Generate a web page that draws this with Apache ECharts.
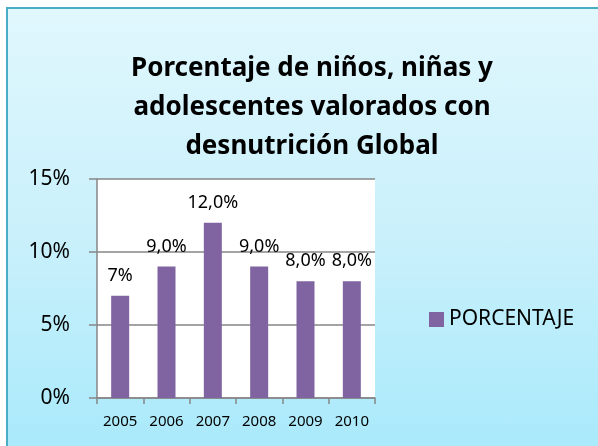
<!DOCTYPE html>
<html>
<head>
<meta charset="utf-8">
<script src="https://cdn.jsdelivr.net/npm/echarts@6/dist/echarts.min.js"></script>
<style>
  html, body { margin: 0; padding: 0; background: #ffffff; }
  #frame {
    position: absolute; left: 6px; top: 7px; width: 620px; height: 460px;
    border-left: 2px solid #4bacc6; border-top: 2px solid #4bacc6;
    background: linear-gradient(to bottom, #e0f7fd 0%, #c9f0fb 50%, #a6e9fb 100%);
  }
  #chart { position: absolute; left: 0; top: 0; width: 598px; height: 446px; }
</style>
</head>
<body>
<div id="frame"></div>
<div id="chart"></div>
<script>
// años
var years = ['2005', '2006', '2007', '2008', '2009', '2010'];
// porcentaje
var values = [7, 9, 12, 9, 8, 8];
// etiquetas tal como aparecen
var valueLabels = ['7%', '9,0%', '12,0%', '9,0%', '8,0%', '8,0%'];
var yTicks = [0, 5, 10, 15];

var myChart = echarts.init(document.getElementById('chart'));
var font = "'Noto Sans', 'DejaVu Sans', sans-serif";

var option = {
    backgroundColor: 'transparent',
    animation: false,
    title: {
        text: 'Porcentaje de niños, niñas y\nadolescentes valorados con\ndesnutrición Global',
        left: 307,
        top: 44,
        textAlign: 'center',
        textStyle: {
            fontFamily: font,
            fontWeight: 'bold',
            fontSize: 26,
            lineHeight: 39,
            color: '#000000'
        }
    },
    legend: {
        left: 424,
        top: 304,
        icon: 'rect',
        itemWidth: 15,
        itemHeight: 15,
        itemGap: 8,
        itemStyle: { borderWidth: 0 },
        textStyle: { fontFamily: font, fontSize: 21, color: '#000000' },
        data: ['PORCENTAJE']
    },
    grid: {
        left: 97,
        right: 223,
        top: 179,
        bottom: 48,
        show: true,
        backgroundColor: '#ffffff',
        borderWidth: 0
    },
    xAxis: {
        type: 'category',
        data: years,
        axisLine: { show: true, lineStyle: { color: '#868686', width: 1.5 } },
        axisTick: { show: true, interval: 0, length: 6, lineStyle: { color: '#868686', width: 1.5 } },
        axisLabel: { interval: 0, fontFamily: font, fontSize: 15, color: '#000000', margin: 16 }
    },
    yAxis: {
        type: 'value',
        min: yTicks[0],
        max: yTicks[yTicks.length - 1],
        interval: 5,
        axisLine: { show: true, lineStyle: { color: '#868686', width: 1.5 } },
        axisTick: { show: true, inside: false, length: 8, lineStyle: { color: '#868686', width: 1.5 } },
        splitLine: { show: true, lineStyle: { color: '#868686', width: 1.5 } },
        axisLabel: {
            fontFamily: font, fontSize: 21, color: '#000000', margin: 27,
            formatter: function (v) { return v + '%'; }
        }
    },
    series: [{
        name: 'PORCENTAJE',
        type: 'bar',
        data: values,
        barWidth: 18,
        itemStyle: { color: '#8064a2' },
        label: {
            show: true,
            position: 'top',
            distance: 11,
            fontFamily: font,
            fontSize: 18,
            color: '#000000',
            formatter: function (p) { return valueLabels[p.dataIndex]; }
        }
    }]
};
myChart.setOption(option);
</script>
</body>
</html>
